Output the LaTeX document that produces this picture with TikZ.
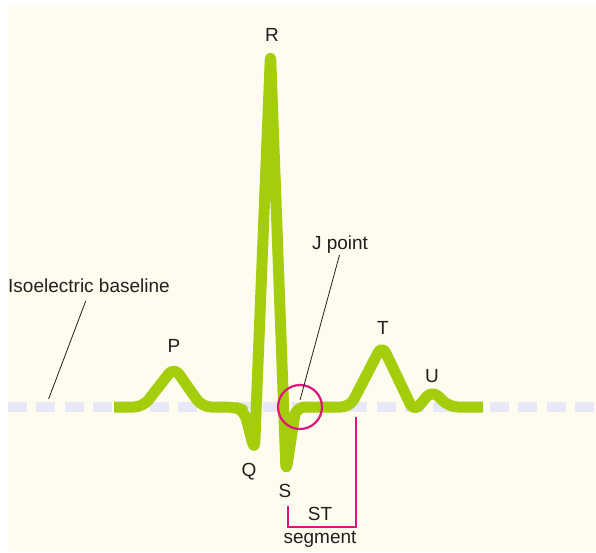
\documentclass[tikz,border=0pt]{standalone}
\usepackage{fontspec}
\setmainfont{Liberation Sans}
\usetikzlibrary{positioning}
\definecolor{ecggreen}{RGB}{164,206,12}
\definecolor{paper}{RGB}{254,252,238}
\definecolor{isoline}{RGB}{232,232,248}
\definecolor{jmagenta}{RGB}{222,20,128}
\definecolor{inkgray}{RGB}{35,31,32}

\begin{document}
\begin{tikzpicture}[x=1pt,y=-1pt,
    trace/.style={line width=11pt,ecggreen,line join=round,rounded corners=9pt},
    isodash/.style={line width=10pt,isoline,dash pattern=on 19pt off 9.35pt},
    marker/.style={line width=2.2pt,jmagenta},
    lbl/.style={inner sep=0pt,anchor=base,text=inkgray,font=\fontsize{19}{21}\selectfont},
    leader/.style={line width=0.8pt,inkgray}]
		% Page and background
		\useasboundingbox (0,0) rectangle (596,552);
		\fill[paper] (8,5) rectangle (596,552);
		% Isoelectric baseline
		\def\base{407}
		\draw[isodash] (8,\base) -- (596,\base);
		% ECG trace: P wave, QRS complex, ST segment, T and U waves
		\draw[trace] (114,\base) -- (143,\base) -- (174,367) -- (202,\base) -- (234,\base)
			-- (244,410) -- (254.5,450.5) -- (270.5,53) -- (286,472) -- (296,\base)
			-- (350,\base) -- (382,345) -- (414,412) -- (432,390) -- (449,\base) -- (483,\base);
		% J point marker
		\node[draw=jmagenta,line width=2.2pt,circle,minimum size=44pt,inner sep=0pt] (jring) at (300,\base) {};
		% ST segment bracket
		\coordinate (stleft) at (288,506);
		\coordinate (stright) at (356,417);
		\draw[marker] (stleft) -- ++(0,21) -| (stright);
		% Wave labels
		\node[lbl] (rlab) at (272,41) {R};
		\node[lbl] (plab) at (174,352) {P};
		\node[lbl] (qlab) at (249,476) {Q};
		\node[lbl] (slab) at (285,497) {S};
		\node[lbl] (tlab) at (383,334) {T};
		\node[lbl] (ulab) at (432,382) {U};
		\node[lbl] (stlab) at (320,520) {ST};
		\node[lbl] (seglab) at (320,543) {segment};
		% Leader lines
		\node[lbl,anchor=base west] (isolab) at (8,292) {Isoelectric baseline};
		\coordinate (isofoot) at (48.6,399);
		\draw[leader,shorten <=9pt] (isolab.south) -- (isofoot);
		\node[lbl] (jlab) at (340,249) {J point};
		\coordinate (jfoot) at (300,400);
		\draw[leader,shorten <=2pt] (jlab.south) -- (jfoot);
	\end{tikzpicture}
\end{document}
